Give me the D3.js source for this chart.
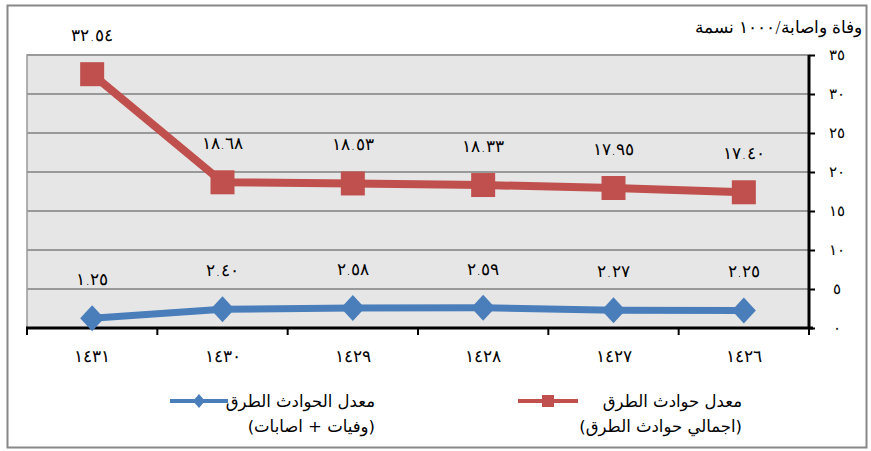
<!DOCTYPE html>
<html><head><meta charset="utf-8">
<script src="https://cdn.jsdelivr.net/npm/d3@7"></script>
<style>
html,body{margin:0;padding:0;background:#fff;}
text{font-family:"DejaVu Sans",sans-serif;}
.num{font-weight:200;}
</style></head>
<body><svg id="c" width="871" height="451"></svg>
<script>
const categories = ["١٤٣١","١٤٣٠","١٤٢٩","١٤٢٨","١٤٢٧","١٤٢٦"];
const totalRate = [32.54, 18.68, 18.53, 18.33, 17.95, 17.40];
const casualtyRate = [1.25, 2.40, 2.58, 2.59, 2.27, 2.25];
const yTicks = [0,5,10,15,20,25,30,35];
const yTitle = "وفاة واصابة/١٠٠٠ نسمة";
const legendRed = ["معدل حوادث الطرق","(اجمالي حوادث الطرق)"];
const legendBlue = ["معدل الحوادث الطرق","(وفيات + اصابات)"];

const AR = "٠١٢٣٤٥٦٧٨٩";
const toAr = s => String(s).replace(/[0-9]/g, d => AR[+d]);

const svg = d3.select("#c");
const L=27, R=809, T=55, B=328;
const RED="#C0504D", BLUE="#4A7EBB";

svg.append("rect").attr("x",7.5).attr("y",5.5).attr("width",859).attr("height",442)
  .attr("fill","#fff").attr("stroke","#888").attr("stroke-width",2);

const x = d3.scaleBand().domain(categories).range([L,R]);
const y = d3.scaleLinear().domain([0,35]).range([B,T]);

svg.append("rect").attr("x",L).attr("y",T).attr("width",R-L).attr("height",B-T)
  .attr("fill","#E6E6E6").attr("stroke","#999").attr("stroke-width",1.5);

svg.append("g").selectAll("line").data(yTicks.filter(v=>v>0)).join("line")
  .attr("x1",L).attr("x2",R).attr("y1",d=>y(d)).attr("y2",d=>y(d))
  .attr("stroke","#999").attr("stroke-width",2);

// right axis
const ya = svg.append("g").attr("transform",`translate(${R},0)`)
  .call(d3.axisRight(y).tickValues(yTicks).tickSize(6).tickFormat(d=>toAr(d)));
ya.select(".domain").attr("stroke","#000").attr("stroke-width",3).attr("d",`M0,${T}V${B}`);
ya.selectAll(".tick line").attr("stroke","#000").attr("stroke-width",2);
ya.selectAll(".tick text").attr("x",28).attr("text-anchor","middle").attr("font-size",15)
  .attr("letter-spacing",1).attr("class","num")
  .attr("fill","#000").attr("font-family","DejaVu Sans");

// bottom axis
const xa = svg.append("g").attr("transform",`translate(0,${B})`)
  .call(d3.axisBottom(x).tickSize(0).tickPadding(22));
xa.select(".domain").attr("stroke","#000").attr("stroke-width",3).attr("d",`M${L-1},0H${R+4}`);
xa.selectAll(".tick text").attr("font-size",17).attr("letter-spacing",1.5).attr("class","num")
  .attr("fill","#000").attr("font-family","DejaVu Sans");
const bounds = categories.map(c=>x(c)).concat([R]);
svg.append("g").selectAll("line").data(bounds).join("line")
  .attr("x1",d=>d).attr("x2",d=>d).attr("y1",B).attr("y2",B+7)
  .attr("stroke","#000").attr("stroke-width",2);

const cx = c => x(c)+x.bandwidth()/2;

function series(vals,color,marker){
  const pts = categories.map((c,i)=>[cx(c),y(vals[i])]);
  svg.append("path").attr("d",d3.line()(pts)).attr("fill","none")
    .attr("stroke",color).attr("stroke-width",marker==="square"?8:7).attr("stroke-linejoin","round");
  const g = svg.append("g");
  if(marker==="square"){
    g.selectAll("rect").data(pts).join("rect")
      .attr("x",d=>d[0]-12).attr("y",d=>d[1]-12).attr("width",24).attr("height",24).attr("fill",color);
  } else {
    g.selectAll("path").data(pts).join("path")
      .attr("d",d=>`M${d[0]},${d[1]-13}L${d[0]+12},${d[1]}L${d[0]},${d[1]+13}L${d[0]-12},${d[1]}Z`).attr("fill",color);
  }
  svg.append("g").selectAll("text").data(vals).join("text")
    .attr("x",(d,i)=>cx(categories[i])).attr("y",(d,i)=>y(d)-33)
    .attr("text-anchor","middle").attr("font-size",17).attr("letter-spacing",1.2).attr("class","num").attr("fill","#000")
    .text(d=>toAr(d.toFixed(2)));
}
series(totalRate,RED,"square");
series(casualtyRate,BLUE,"diamond");

svg.append("text").attr("x",862).attr("y",33).attr("text-anchor","start").attr("direction","rtl")
  .attr("font-size",16.5).attr("fill","#000").attr("class","num").text(yTitle);

function legend(lx1,lx2,tx,lines,color,marker){
  const ly=401;
  svg.append("line").attr("x1",lx1).attr("x2",lx2).attr("y1",ly).attr("y2",ly)
    .attr("stroke",color).attr("stroke-width",4);
  const mx=(lx1+lx2)/2;
  if(marker==="square") svg.append("rect").attr("x",mx-6).attr("y",ly-6).attr("width",12).attr("height",12).attr("fill",color);
  else svg.append("path").attr("d",`M${mx},${ly-7}L${mx+6},${ly}L${mx},${ly+7}L${mx-6},${ly}Z`).attr("fill",color);
  lines.forEach((t,i)=>svg.append("text").attr("x",tx).attr("y",ly+6+i*25)
    .attr("direction","rtl").attr("text-anchor","start").attr("font-size",16.5).attr("fill","#000").text(t));
}
legend(518,578,742,legendRed,RED,"square");
legend(170,228,375,legendBlue,BLUE,"diamond");
</script></body></html>
